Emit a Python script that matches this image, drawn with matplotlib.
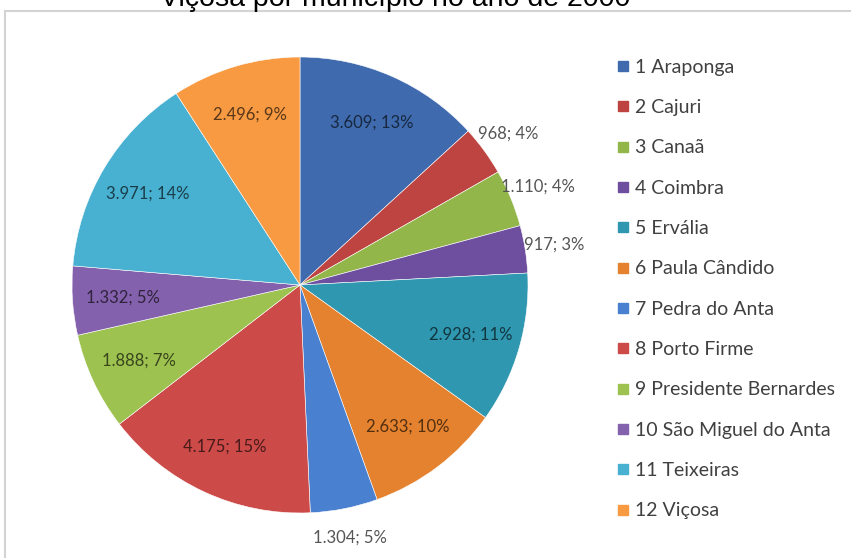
import matplotlib.pyplot as plt
import matplotlib.colors as mcolors
from matplotlib.lines import Line2D
import numpy as np

plt.rcParams['font.family'] = ['Lato', 'DejaVu Sans']

municipios = ['1 Araponga', '2 Cajuri', '3 Canaã', '4 Coimbra', '5 Ervália',
              '6 Paula Cândido', '7 Pedra do Anta', '8 Porto Firme',
              '9 Presidente Bernardes', '10 São Miguel do Anta',
              '11 Teixeiras', '12 Viçosa']
valores = [3609, 968, 1110, 917, 2928, 2633, 1304, 4175, 1888, 1332, 3971, 2496]
percentuais = [13, 4, 4, 3, 11, 10, 5, 15, 7, 5, 14, 9]
rotulo_fora = [False, True, True, True, False, False, True, False, False, False, False, False]
cores = ['#3F6BAE', '#BE4441', '#93B64B', '#6E4E9E', '#2F97B0', '#E4822F',
         '#4A80D0', '#CC4A48', '#9DC250', '#8461AC', '#48B0D0', '#F79A42']

W, H = 851, 558
fig = plt.figure(figsize=(W / 100, H / 100), dpi=100)

# moldura do gráfico (cortada à direita e embaixo)
fig.add_artist(Line2D([5 / W, 5 / W], [0, 1 - 11 / H], transform=fig.transFigure,
                      color='#D3D3D3', lw=1.5))
fig.add_artist(Line2D([5 / W, 1], [1 - 11 / H, 1 - 11 / H], transform=fig.transFigure,
                      color='#D3D3D3', lw=1.5))

# título (parcialmente cortado no topo)
fig.text(395 / W, 1 - 6 / H, 'Viçosa por município no ano de 2000', ha='center',
         va='baseline', fontsize=20.5, family=['Liberation Sans'], color='black')

cx, cy, R = 300, 285, 228
ax = fig.add_axes([(cx - R) / W, (H - cy - R) / H, 2 * R / W, 2 * R / H])
wedges, _ = ax.pie(valores, colors=cores, startangle=90, counterclock=False,
                   radius=1, wedgeprops=dict(edgecolor='white', linewidth=0.4))
ax.set_xlim(-1, 1)
ax.set_ylim(-1, 1)
ax.set_aspect('equal')
ax.axis('off')

for w, v, p, fora, c in zip(wedges, valores, percentuais, rotulo_fora, cores):
    ang = np.deg2rad((w.theta1 + w.theta2) / 2)
    txt = f'{v:,}'.replace(',', '.') + f'; {p}%'
    if fora:
        d = 1.13
        cor_txt = '#555555'
    else:
        d = 0.78
        cor_txt = tuple(np.array(mcolors.to_rgb(c)) * 0.36)
    ax.text(d * np.cos(ang), d * np.sin(ang), txt, ha='center', va='center',
            fontsize=12, color=cor_txt)

handles = [Line2D([], [], marker='s', linestyle='none', markersize=7.5,
                  markerfacecolor=c, markeredgecolor=c) for c in cores]
fig.legend(handles, municipios, loc='upper left', bbox_to_anchor=(605 / W, 1 - 49 / H),
           frameon=False, fontsize=14, labelspacing=1.2, handlelength=0.8,
           handletextpad=0.25, borderpad=0, labelcolor='#404040')

fig.savefig('out.png', dpi=100)
